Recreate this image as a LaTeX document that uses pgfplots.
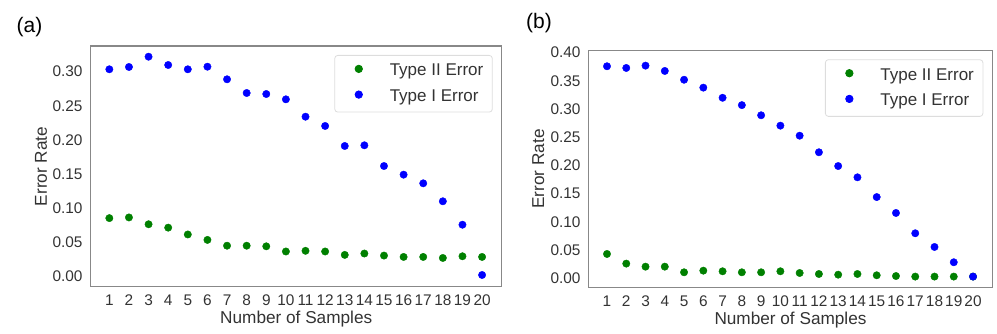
\documentclass[border=0pt]{standalone}
\usepackage{fontspec}
\setmainfont{Liberation Sans}
\usepackage{pgfplots}
\pgfplotsset{compat=1.18}

\definecolor{txt}{HTML}{333333}
\definecolor{frame}{HTML}{888888}
\definecolor{legframe}{HTML}{DDDDDD}
\definecolor{mplgreen}{HTML}{008000}
\definecolor{mplblue}{HTML}{0000FF}

\pgfplotsset{
  errpanel/.style={
    scale only axis,
    xmin=0.05, xmax=21,
    xtick={1,...,20},
    major tick length=0pt,
    axis line style={draw=frame, line width=1.2pt},
    /pgf/number format/assume math mode=true,
    tick label style={font=\fontsize{15.4}{18}\selectfont, text=txt},
    xticklabel style={anchor=north, inner sep=0pt, yshift=-8.3pt},
    yticklabel style={anchor=east, inner sep=0pt, xshift=-8pt},
    y tick label style={/pgf/number format/fixed,
                        /pgf/number format/fixed zerofill,
                        /pgf/number format/precision=2},
    label style={font=\fontsize{17.2}{20}\selectfont, text=txt},
    xlabel={Number of Samples},
    ylabel={Error Rate},
    xlabel style={at={(axis description cs:0.5,0)}, anchor=north,
                  inner sep=0pt, yshift=-24.6pt},
    legend style={at={(rel axis cs:1,1)}, anchor=north east,
                  draw=legframe, line width=0.8pt, rounded corners=3pt,
                  fill=white, inner xsep=9pt, inner ysep=7.5pt,
                  row sep=9.7pt, font=\fontsize{17}{20}\selectfont,
                  text=txt, nodes={inner sep=0pt}, cells={anchor=west}},
  },
  dots/.style={only marks, mark=*, mark size=3.7pt,
    legend image code/.code={
      \path[draw=none, fill=none] (0pt,-8pt) rectangle (46pt,8pt);
      \draw[##1, only marks, rounded corners=0pt] plot coordinates {(15pt,2pt)};}},
}

\begin{document}
\begin{tikzpicture}
  \useasboundingbox (0pt,0pt) rectangle (997pt,333pt);

  % (a)
  \begin{axis}[errpanel,
    at={(90.7pt,46.3pt)}, anchor=south west,
    width=411pt, height=240.7pt,
    ymin=-0.0157, ymax=0.3377,
    ytick={0,0.05,0.10,0.15,0.20,0.25,0.30},
    ylabel style={at={(axis description cs:-0.121,0.5)}, anchor=center},
    legend style={xshift=-9pt, yshift=-9pt},
  ]
    \addplot[dots, color=mplgreen] coordinates {
      (1,0.085) (2,0.086) (3,0.076) (4,0.071) (5,0.061)
      (6,0.053) (7,0.0445) (8,0.0445) (9,0.0436) (10,0.036)
      (11,0.037) (12,0.036) (13,0.031) (14,0.033) (15,0.030)
      (16,0.028) (17,0.028) (18,0.0265) (19,0.029) (20,0.028)};
    \addlegendentry{Type II Error}
    \addplot[dots, color=mplblue] coordinates {
      (1,0.3035) (2,0.3069) (3,0.322) (4,0.3098) (5,0.3035)
      (6,0.3073) (7,0.2888) (8,0.2687) (9,0.2672) (10,0.2594)
      (11,0.2339) (12,0.2203) (13,0.1909) (14,0.1919) (15,0.1615)
      (16,0.1488) (17,0.1361) (18,0.1097) (19,0.0753) (20,0.0015)};
    \addlegendentry{Type I Error}
  \end{axis}

  % (b)
  \begin{axis}[errpanel,
    at={(588.7pt,45.7pt)}, anchor=south west,
    width=403.6pt, height=236.6pt,
    ymin=-0.016, ymax=0.4035,
    ytick={0,0.05,0.10,0.15,0.20,0.25,0.30,0.35,0.40},
    ylabel style={at={(axis description cs:-0.125,0.5)}, anchor=center},
    legend style={xshift=-9pt, yshift=-8.6pt},
  ]
    \addplot[dots, color=mplgreen] coordinates {
      (1,0.0431) (2,0.026) (3,0.0206) (4,0.0206) (5,0.0106)
      (6,0.0135) (7,0.0124) (8,0.0106) (9,0.0106) (10,0.0124)
      (11,0.0094) (12,0.0076) (13,0.0064) (14,0.0076) (15,0.0053)
      (16,0.004) (17,0.003) (18,0.003) (19,0.003) (20,0.003)};
    \addlegendentry{Type II Error}
    \addplot[dots, color=mplblue] coordinates {
      (1,0.3759) (2,0.3729) (3,0.377) (4,0.3676) (5,0.352)
      (6,0.338) (7,0.320) (8,0.307) (9,0.289) (10,0.2706)
      (11,0.2528) (12,0.2234) (13,0.199) (14,0.179) (15,0.144)
      (16,0.1158) (17,0.0798) (18,0.0555) (19,0.0284) (20,0.003)};
    \addlegendentry{Type I Error}
  \end{axis}

  \node[font=\fontsize{21}{24}\selectfont, anchor=center] at (29.5pt,306pt) {(a)};
  \node[font=\fontsize{21}{24}\selectfont, anchor=center] at (539pt,310pt) {(b)};
\end{tikzpicture}
\end{document}
